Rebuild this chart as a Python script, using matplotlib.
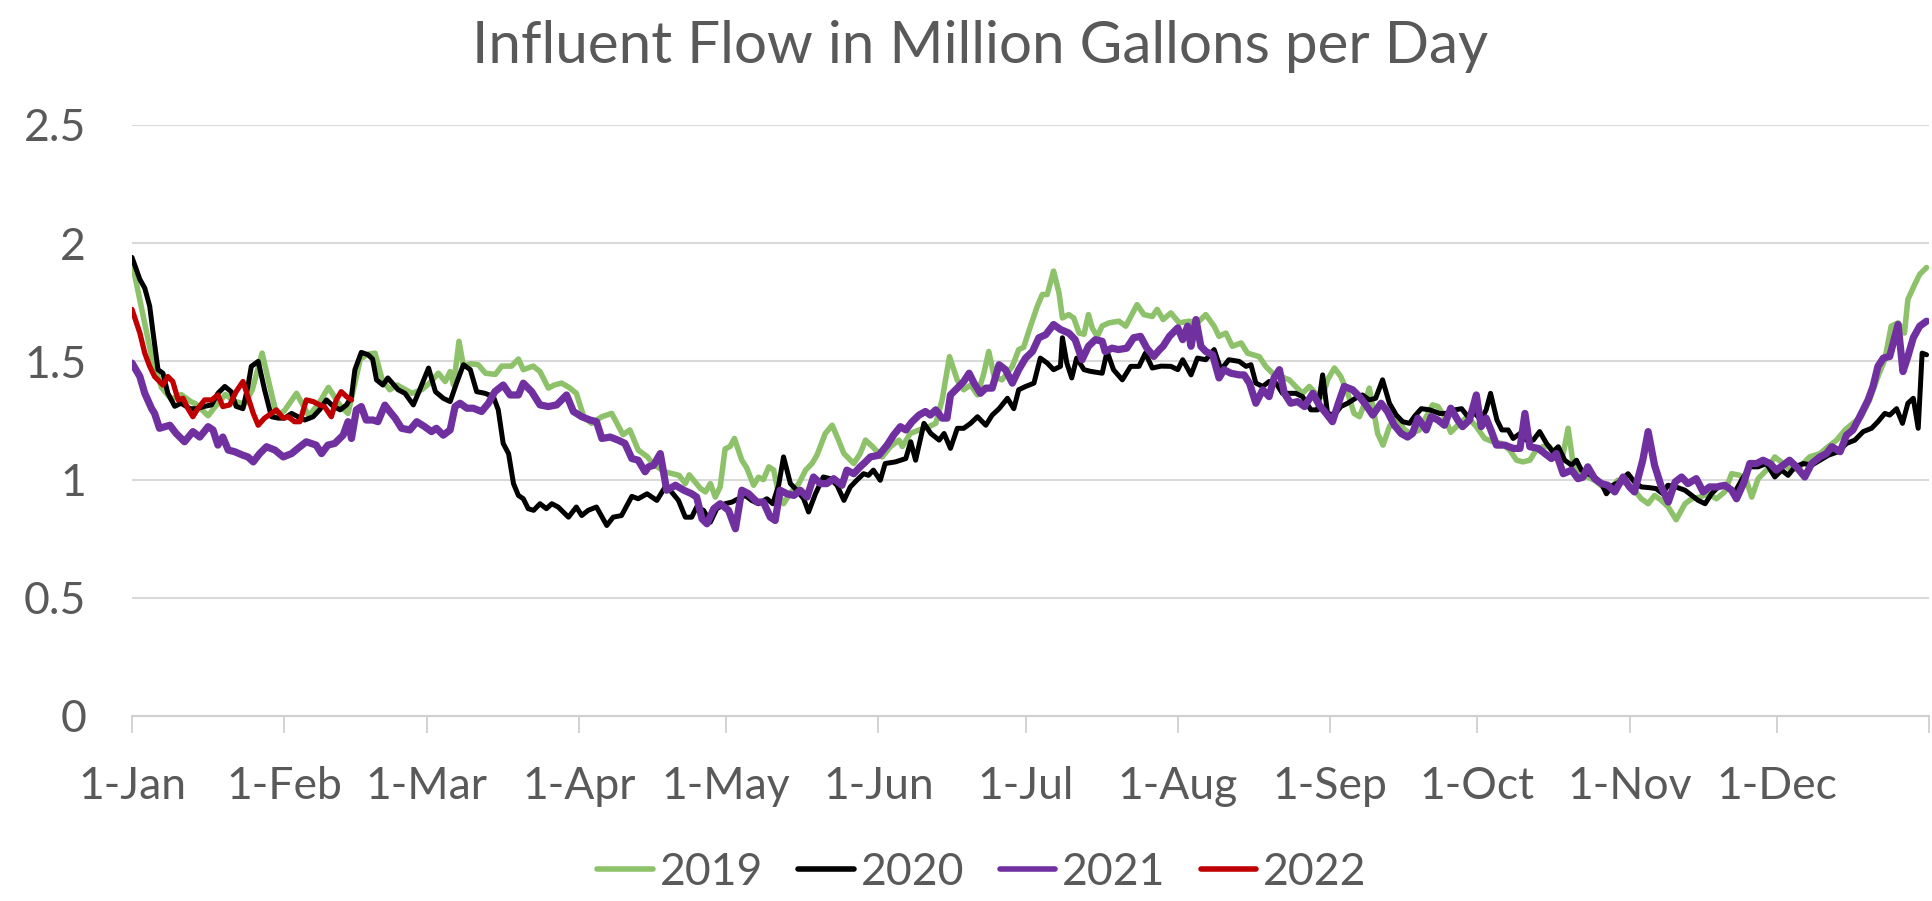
import matplotlib
matplotlib.use("Agg")
import matplotlib.pyplot as plt

plt.rcParams['font.family'] = ['Lato', 'DejaVu Sans']

# ---------------- data (day of year, flow in MGD) ----------------
days_2019 = [0, 2, 4, 6, 8, 10, 12, 13, 15.5, 17, 19, 21, 23, 24.5, 26.5, 28, 29.5, 31, 33.5, 36, 38, 40,
             42.5, 44, 46.5, 48, 49.5, 51, 52.5, 54, 57, 59, 60.7, 62.4, 63.8, 64.8, 65.5, 66.6, 67.5, 69,
             70.5, 72, 74, 75.3, 77.3, 78.7, 79.7, 81.7, 83.1, 84.8, 86, 87.5, 89, 90.5, 92, 93.6, 95.7,
             97.7, 100, 101.4, 103.1, 105, 106, 108.5, 111.4, 112.7, 113.5, 115.8, 116.8, 117.8, 118.8,
             119.8, 120.8, 121.8, 122.7, 124.2, 125.2, 126.6, 127.6, 128.6, 129.7, 130.7, 131.7, 132.7,
             134, 135.8, 137.2, 138.5, 139.5, 141.2, 142.6, 143.9, 145, 147, 148.3, 149.4, 150.8, 152.8,
             154.5, 156.2, 156.9, 158.5, 160.3, 162.3, 163.7, 165, 166.5, 168.1, 169.4, 170.8, 172.2,
             173.5, 174.5, 175.6, 177.2, 179.3, 180.6, 181.6, 183, 184.4, 185.4, 186.4, 187.7, 188.8,
             189.5, 190.8, 191.8, 192.9, 193.9, 194.8, 195.6, 196.6, 197.6, 199, 201, 202.4, 204.7,
             206.1, 207.8, 208.8, 210, 211.6, 213.3, 215.3, 217, 218.7, 220.4, 221.4, 222.8, 224.1,
             225.9, 227.2, 229.6, 230.9, 232.3, 234, 235.7, 237, 238.4, 239.8, 241.1, 242.5, 243.5,
             244.9, 246.2, 247.6, 248.9, 250, 251.3, 252, 253, 253.7, 254.8, 256.1, 257.5, 259.2, 260.5,
             262.2, 263.6, 264.9, 266, 267.3, 268.6, 270.4, 272, 273.8, 275.5, 277.2, 278.9, 280.6, 282,
             283.3, 284.7, 286, 287.4, 288.7, 289.8, 291.1, 292.5, 293.5, 294.8, 296.5, 297.9, 299.6,
             300.9, 302.6, 304.3, 306, 307.4, 308.8, 310.1, 311.5, 312.9, 314.5, 316.3, 317.7, 319.3,
             321, 322.7, 324.4, 325.8, 327.5, 328.9, 329.9, 331.2, 332.9, 334.6, 336.3, 337.9, 339.7,
             341.7, 343.8, 345.5, 347.2, 348.9, 350.5, 352.2, 353.9, 355.6, 357, 358.3, 359.7, 361,
             361.7, 363.1, 364.1, 365.5]
flow_2019 = [1.92, 1.72, 1.52, 1.39, 1.34, 1.36, 1.33, 1.32, 1.27, 1.31, 1.36, 1.33, 1.32, 1.38, 1.535, 1.40,
             1.27, 1.29, 1.365, 1.27, 1.32, 1.39, 1.31, 1.28, 1.51, 1.53, 1.535, 1.42, 1.38, 1.40, 1.365,
             1.38, 1.41, 1.45, 1.415, 1.457, 1.40, 1.585, 1.48, 1.49, 1.486, 1.45, 1.445, 1.48, 1.48, 1.51,
             1.465, 1.48, 1.457, 1.387, 1.40, 1.408, 1.39, 1.365, 1.266, 1.238, 1.266, 1.28, 1.19, 1.21,
             1.125, 1.096, 1.068, 1.033, 1.018, 0.983, 1.02, 0.962, 0.948, 0.983, 0.926, 0.97, 1.13, 1.14,
             1.174, 1.082, 1.05, 0.976, 1.01, 1.0, 1.054, 1.04, 0.94, 0.898, 0.94, 0.983, 1.04, 1.068,
             1.103, 1.195, 1.23, 1.167, 1.11, 1.068, 1.11, 1.167, 1.14, 1.096, 1.14, 1.167, 1.14, 1.195,
             1.21, 1.224, 1.238, 1.337, 1.52, 1.42, 1.38, 1.40, 1.358, 1.45, 1.542, 1.436, 1.422, 1.479,
             1.55, 1.56, 1.649, 1.734, 1.783, 1.783, 1.882, 1.79, 1.684, 1.698, 1.684, 1.62, 1.615, 1.698,
             1.64, 1.606, 1.65, 1.663, 1.67, 1.649, 1.74, 1.698, 1.69, 1.72, 1.677, 1.705, 1.663, 1.67,
             1.663, 1.698, 1.649, 1.606, 1.62, 1.564, 1.578, 1.535, 1.52, 1.479, 1.45, 1.436, 1.422, 1.394,
             1.365, 1.394, 1.365, 1.351, 1.422, 1.472, 1.436, 1.365, 1.28, 1.266, 1.337, 1.387, 1.28, 1.195,
             1.146, 1.224, 1.266, 1.21, 1.195, 1.21, 1.266, 1.316, 1.309, 1.266, 1.2, 1.238, 1.266, 1.224,
             1.174, 1.16, 1.153, 1.125, 1.082, 1.075, 1.082, 1.125, 1.14, 1.14, 1.096, 1.068, 1.217, 1.068,
             1.025, 1.011, 0.997, 0.969, 0.955, 0.997, 0.983, 0.955, 0.919, 0.898, 0.933, 0.912, 0.884,
             0.83, 0.898, 0.919, 0.926, 0.94, 0.919, 0.948, 1.025, 1.018, 0.99, 0.926, 1.004, 1.04, 1.096,
             1.068, 1.04, 1.054, 1.096, 1.11, 1.14, 1.167, 1.21, 1.238, 1.266, 1.337, 1.436, 1.507, 1.649,
             1.663, 1.62, 1.762, 1.826, 1.868, 1.897]

days_2020 = [0, 1.6, 2.6, 3.6, 4.3, 5.3, 6.3, 7.3, 8.7, 10, 11.8, 13.2, 14.8, 16.2, 17.5, 18.9, 20.2, 21.2,
             22.6, 23.6, 24.3, 25.7, 27, 28.4, 29.8, 31.1, 32.5, 33.8, 35.2, 36.9, 38.2, 39.6, 41, 42.4,
             43.7, 44.7, 45.4, 46.7, 48.1, 49, 49.8, 51.1, 52.1, 54.2, 55.6, 57.3, 58.6, 60.4, 61.8, 63.4,
             64.8, 66.1, 67.5, 68.9, 70.2, 71.9, 73.6, 74.6, 75.6, 76.7, 77.7, 78.7, 79.7, 80.7, 81.8,
             83.1, 84.4, 85.5, 86.8, 88.9, 90.5, 91.6, 92.9, 94.6, 96.7, 98, 99.7, 101.8, 103.1, 104.9,
             106.9, 108.6, 109.6, 111.3, 112.7, 114, 115, 116.4, 117.8, 119.1, 120.8, 122.2, 123.5, 124.9,
             126.2, 127.6, 129.3, 130.5, 131.7, 132.7, 134.1, 135.4, 136.8, 137.8, 139.2, 140.8, 142.2,
             143.6, 145, 146.3, 147.6, 149, 150, 151, 152.4, 153.4, 155.5, 157.6, 158.6, 159.6, 161.3,
             162.7, 164.4, 165.4, 166.7, 168.1, 169.4, 170.8, 172.2, 173.9, 175.2, 176.6, 178.3, 179.6,
             180.6, 182, 183.7, 185, 186.4, 187.7, 189.1, 189.5, 190.4, 191.4, 192.4, 193.9, 195.2, 197.6,
             198.6, 199.9, 201.7, 203.4, 205.1, 206.4, 207.8, 209.6, 211.6, 213, 214, 215.7, 217, 218.7,
             220.4, 221.8, 223.4, 225.5, 226.9, 227.9, 228.9, 230.3, 231.6, 233, 234.3, 235.7, 237, 238.4,
             240.1, 241.5, 242.5, 243.5, 244.9, 246.2, 247.6, 249.2, 250.6, 252, 253.3, 254.7, 256.1,
             257.5, 258.8, 260.2, 261.3, 262.6, 264.3, 266.3, 267.8, 269.4, 270.8, 272.1, 273.5, 274.8,
             275.8, 276.7, 278, 279, 280.3, 281.3, 282.7, 284, 285.4, 286.7, 288.1, 289.4, 290.5, 291.8,
             293.2, 294.2, 295.2, 296.5, 297.9, 299.3, 300.3, 301.6, 303, 304.7, 306, 307.4, 309, 310.4,
             311.8, 312.8, 314.3, 316.3, 317.7, 319, 320.4, 321.7, 323.4, 325.1, 326.5, 327.8, 329.5,
             331.2, 332.9, 334.6, 336, 337.3, 338.7, 340.4, 342.1, 343.8, 345.5, 347.5, 349.2, 350.9,
             352.6, 354.3, 355.6, 357, 358, 359.4, 360.6, 361.7, 362.8, 363.8, 364.6, 365.5]
flow_2020 = [1.94, 1.847, 1.81, 1.734, 1.62, 1.465, 1.45, 1.365, 1.31, 1.323, 1.30, 1.30, 1.31, 1.316, 1.365,
             1.394, 1.372, 1.31, 1.30, 1.394, 1.479, 1.50, 1.38, 1.266, 1.26, 1.26, 1.28, 1.266, 1.252,
             1.266, 1.295, 1.337, 1.31, 1.295, 1.316, 1.351, 1.465, 1.538, 1.528, 1.51, 1.422, 1.40, 1.43,
             1.38, 1.365, 1.316, 1.38, 1.472, 1.372, 1.344, 1.33, 1.408, 1.486, 1.465, 1.372, 1.365, 1.351,
             1.295, 1.153, 1.11, 0.983, 0.933, 0.919, 0.877, 0.87, 0.898, 0.877, 0.898, 0.884, 0.841, 0.884,
             0.848, 0.87, 0.884, 0.806, 0.841, 0.848, 0.929, 0.919, 0.94, 0.912, 0.969, 0.955, 0.912, 0.841,
             0.841, 0.884, 0.87, 0.82, 0.877, 0.898, 0.905, 0.919, 0.933, 0.912, 0.898, 0.919, 0.898, 0.976,
             1.096, 0.983, 0.955, 0.919, 0.863, 0.94, 1.011, 1.004, 0.976, 0.912, 0.969, 0.997, 1.025, 1.018,
             1.04, 0.997, 1.068, 1.075, 1.089, 1.16, 1.082, 1.238, 1.195, 1.167, 1.195, 1.132, 1.217, 1.217,
             1.238, 1.266, 1.23, 1.273, 1.30, 1.344, 1.30, 1.38, 1.394, 1.408, 1.514, 1.493, 1.465, 1.479,
             1.60, 1.493, 1.43, 1.514, 1.465, 1.458, 1.45, 1.542, 1.465, 1.422, 1.479, 1.479, 1.535, 1.472,
             1.48, 1.479, 1.465, 1.507, 1.443, 1.514, 1.507, 1.55, 1.465, 1.507, 1.50, 1.479, 1.486, 1.408,
             1.394, 1.415, 1.408, 1.365, 1.365, 1.365, 1.351, 1.295, 1.295, 1.443, 1.28, 1.273, 1.309, 1.323,
             1.344, 1.358, 1.337, 1.344, 1.422, 1.323, 1.273, 1.245, 1.238, 1.27, 1.30, 1.295, 1.28, 1.28,
             1.295, 1.30, 1.266, 1.28, 1.252, 1.295, 1.365, 1.252, 1.21, 1.21, 1.174, 1.195, 1.167, 1.167,
             1.203, 1.153, 1.118, 1.139, 1.082, 1.061, 1.082, 1.04, 1.025, 1.011, 0.983, 0.94, 0.976, 0.99,
             1.025, 0.99, 0.969, 0.966, 0.962, 0.94, 0.976, 0.97, 0.955, 0.933, 0.912, 0.898, 0.94, 0.976,
             0.969, 0.948, 0.997, 1.054, 1.054, 1.068, 1.011, 1.04, 1.018, 1.054, 1.068, 1.061, 1.082, 1.103,
             1.118, 1.153, 1.167, 1.203, 1.217, 1.245, 1.28, 1.273, 1.30, 1.238, 1.323, 1.344, 1.217, 1.535,
             1.528]

days_2021 = [0, 1.6, 2.6, 4, 4.6, 5.6, 7.7, 9, 10.7, 12.4, 13.8, 15.5, 16.5, 17.5, 18.5, 19.6, 20.9, 22.6,
             23.6, 24.7, 26, 27.4, 29.1, 30.8, 32.5, 34.2, 35.5, 37.5, 38.6, 39.9, 41.3, 43, 44, 44.7, 45.7,
             46.7, 47.7, 49.1, 50.1, 51.5, 52.5, 53.6, 54.9, 56.6, 58, 59.6, 61, 62, 63.4, 64.8, 65.8, 66.8,
             68.2, 69.5, 71.2, 72.6, 73.9, 75.6, 77, 78.7, 79.7, 81.4, 83.1, 84.8, 86.5, 88.5, 89.9, 91.6,
             93.3, 94.6, 95.7, 97.4, 99, 100.4, 101.8, 103.1, 104.5, 105.2, 106.2, 107.6, 108.9, 110.7,
             112.4, 114, 115, 116.1, 117.1, 118.5, 119.8, 121.5, 122.9, 124.2, 125.6, 127.3, 128.6, 130,
             131, 132, 133.4, 134.8, 136.1, 137.5, 138.8, 140.2, 141.5, 142.9, 144.6, 145.6, 147, 148.3,
             149.4, 150.4, 152.1, 153.8, 155.1, 156.5, 157.6, 158.9, 160.3, 161.6, 162.6, 163.7, 165, 166,
             166.7, 168.1, 169.4, 170.5, 171.5, 172.8, 173.9, 175.2, 176.6, 177.9, 179.3, 180.6, 182, 183.4,
             184.7, 186.1, 187.7, 189.1, 190.8, 192.1, 193.5, 194.8, 196.2, 197.6, 198.2, 199.6, 200.9,
             202.6, 204, 205.4, 206.7, 208.1, 209.3, 210, 211.3, 213, 214, 215, 215.7, 216.7, 217.7, 218.7,
             220.1, 221.4, 222.4, 223.8, 225.5, 226.5, 227.6, 228.9, 230.3, 231.6, 232.6, 233.7, 234.7, 236,
             237.4, 238.8, 240.5, 241.8, 243.2, 244.5, 245.6, 246.9, 248.6, 250, 251.3, 252.7, 254.4, 255.7,
             257.1, 258.5, 259.8, 260.8, 261.9, 263.6, 264.6, 266, 267.3, 268.6, 270, 271, 272.4, 273.8,
             274.8, 275.8, 276.9, 277.9, 279.6, 281.3, 282.7, 283.7, 284.7, 286.4, 287.8, 289.1, 290.1,
             291.5, 293.2, 294.5, 295.5, 296.5, 297.9, 299.3, 300.6, 302, 303.7, 305, 306, 307.7, 308.8,
             310.1, 311.5, 312.9, 314.3, 315.6, 316.9, 318.6, 320, 321.3, 322.8, 324.4, 325.8, 326.8, 328.2,
             329.5, 330.9, 332.2, 333.6, 334.9, 336.3, 337.6, 339, 340.7, 342.1, 343.8, 345.1, 346.2, 347.9,
             349.2, 350.5, 351.9, 353.6, 354.6, 355.6, 356.7, 358, 359.7, 360.7, 361.7, 362.8, 364.1, 365.5]
flow_2021 = [1.493, 1.436, 1.365, 1.30, 1.28, 1.217, 1.23, 1.195, 1.16, 1.203, 1.18, 1.224, 1.21, 1.146, 1.18,
             1.125, 1.118, 1.103, 1.096, 1.075, 1.11, 1.139, 1.125, 1.096, 1.11, 1.139, 1.16, 1.146, 1.11,
             1.146, 1.153, 1.188, 1.245, 1.174, 1.295, 1.309, 1.252, 1.252, 1.245, 1.315, 1.288, 1.26, 1.217,
             1.21, 1.245, 1.224, 1.203, 1.217, 1.188, 1.21, 1.309, 1.323, 1.302, 1.302, 1.288, 1.323, 1.372,
             1.40, 1.358, 1.358, 1.408, 1.372, 1.316, 1.309, 1.316, 1.358, 1.288, 1.266, 1.252, 1.245, 1.174,
             1.18, 1.167, 1.153, 1.089, 1.082, 1.033, 1.054, 1.06, 1.11, 0.955, 0.976, 0.955, 0.94, 0.926,
             0.834, 0.813, 0.877, 0.898, 0.87, 0.792, 0.955, 0.94, 0.905, 0.905, 0.841, 0.827, 0.955, 0.94,
             0.933, 0.955, 0.926, 1.011, 0.983, 0.983, 1.004, 0.976, 1.04, 1.025, 1.054, 1.075, 1.096, 1.103,
             1.146, 1.188, 1.224, 1.21, 1.245, 1.273, 1.288, 1.273, 1.295, 1.26, 1.26, 1.358, 1.387, 1.415,
             1.45, 1.408, 1.365, 1.387, 1.387, 1.486, 1.465, 1.408, 1.465, 1.514, 1.542, 1.60, 1.613, 1.656,
             1.635, 1.62, 1.592, 1.507, 1.564, 1.592, 1.585, 1.542, 1.556, 1.55, 1.556, 1.60, 1.606, 1.556,
             1.521, 1.55, 1.564, 1.606, 1.642, 1.592, 1.649, 1.564, 1.677, 1.564, 1.542, 1.528, 1.43, 1.465,
             1.45, 1.443, 1.443, 1.408, 1.323, 1.38, 1.351, 1.43, 1.465, 1.365, 1.323, 1.33, 1.309, 1.365,
             1.316, 1.28, 1.245, 1.316, 1.394, 1.38, 1.351, 1.316, 1.273, 1.323, 1.288, 1.23, 1.195, 1.18,
             1.195, 1.26, 1.21, 1.266, 1.252, 1.23, 1.302, 1.252, 1.224, 1.252, 1.358, 1.224, 1.26, 1.203,
             1.146, 1.146, 1.132, 1.132, 1.28, 1.139, 1.132, 1.11, 1.089, 1.11, 1.025, 1.04, 1.004, 1.01,
             1.054, 1.004, 0.983, 0.976, 0.948, 1.011, 0.969, 0.948, 1.082, 1.203, 1.061, 0.969, 0.905, 0.99,
             1.011, 0.983, 1.004, 0.948, 0.969, 0.969, 0.976, 0.955, 0.919, 0.983, 1.068, 1.068, 1.082, 1.068,
             1.04, 1.061, 1.082, 1.054, 1.011, 1.068, 1.096, 1.11, 1.139, 1.118, 1.188, 1.21, 1.266, 1.337,
             1.394, 1.479, 1.514, 1.521, 1.656, 1.457, 1.521, 1.60, 1.649, 1.67]

days_2022 = [0, 1.6, 2.6, 3.6, 4.6, 5.6, 6.3, 7.3, 8.3, 9.4, 10.4, 11.4, 12.4, 13.4, 14.8, 16.2, 17.5, 18.5,
             19.9, 21.2, 22.6, 23.6, 24.7, 25.7, 27, 28.4, 29.4, 30.8, 31.8, 33.1, 34.2, 35.5, 36.9, 38.2,
             39.2, 40.6, 41.6, 42.6, 43.7, 44.7]
flow_2022 = [1.72, 1.62, 1.535, 1.479, 1.436, 1.415, 1.40, 1.436, 1.415, 1.337, 1.344, 1.30, 1.266, 1.30,
             1.337, 1.337, 1.358, 1.309, 1.316, 1.372, 1.415, 1.351, 1.28, 1.23, 1.26, 1.28, 1.295, 1.26,
             1.266, 1.245, 1.245, 1.337, 1.33, 1.316, 1.309, 1.266, 1.337, 1.372, 1.351, 1.337]

series_labels = ['2019', '2020', '2021', '2022']
month_starts = [0, 31, 60, 91, 121, 152, 182, 213, 244, 274, 305, 335, 366]
month_labels = ['1-Jan', '1-Feb', '1-Mar', '1-Apr', '1-May', '1-Jun', '1-Jul', '1-Aug',
                '1-Sep', '1-Oct', '1-Nov', '1-Dec', '']
y_ticks = [0, 0.5, 1, 1.5, 2, 2.5]
y_labels = ['0', '0.5', '1', '1.5', '2', '2.5']
title = 'Influent Flow in Million Gallons per Day'

# ---------------- figure ----------------
W, H = 1933, 901
fig = plt.figure(figsize=(W / 100, H / 100), dpi=100)
ax = fig.add_axes([132 / W, 1 - 716 / H, (1929 - 132) / W, (716 - 125) / H])

txt = '#595959'
grid = '#d9d9d9'

styles = [
    dict(color='#8dc26b', lw=4.0),
    dict(color='#000000', lw=3.6),
    dict(color='#7030a0', lw=5.2),
    dict(color='#c00000', lw=3.8),
]
data = [(days_2019, flow_2019), (days_2020, flow_2020), (days_2021, flow_2021), (days_2022, flow_2022)]
for i, ((d, v), st, lab) in enumerate(zip(data, styles, series_labels)):
    ax.plot(d, v, label=lab, solid_joinstyle='round', solid_capstyle='round', zorder=3 + i, **st)

ax.set_xlim(0, 366)
ax.set_ylim(0, 2.5)
ax.set_yticks(y_ticks)
ax.set_yticklabels(y_labels)
ax.set_xticks(month_starts)
ax.set_xticklabels(month_labels)

ax.grid(axis='y', color=grid, lw=1.5, zorder=0)
ax.set_axisbelow(True)
for s in ['left', 'right', 'top']:
    ax.spines[s].set_visible(False)
ax.spines['bottom'].set_color('#d0d0d0')
ax.spines['bottom'].set_linewidth(1.5)

ax.tick_params(axis='y', length=0, pad=33, labelsize=32, labelcolor=txt)
ax.tick_params(axis='x', length=12, width=1.3, color='#d0d0d0', direction='out', pad=24,
               labelsize=32, labelcolor=txt)

fig.text(0.507, 0.948, title, ha='center', va='center', fontsize=42, color=txt)

leg = fig.legend(loc='center', bbox_to_anchor=(0.508, 0.032), ncol=4, frameon=False,
                 fontsize=32, handlelength=1.25, handletextpad=0.15, columnspacing=0.8,
                 labelcolor=txt)
for h in leg.get_lines():
    h.set_linewidth(4.0)

fig.savefig('out.png', dpi=100)
